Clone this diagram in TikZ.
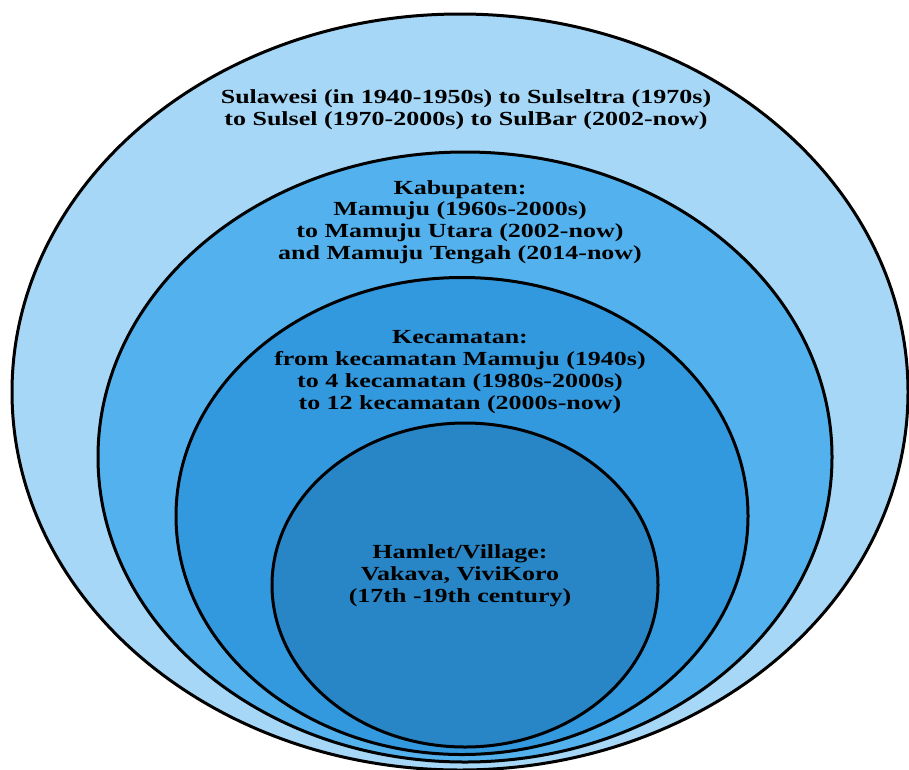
\documentclass[tikz,border=0pt]{standalone}
\usepackage{fontspec}
\newfontfamily\diafont[FakeStretch=1.3]{Liberation Serif}
\usetikzlibrary{shapes.geometric}
\definecolor{c1}{HTML}{A6D7F6}
\definecolor{c2}{HTML}{53B2EE}
\definecolor{c3}{HTML}{3399DF}
\definecolor{c4}{HTML}{2986C6}
\tikzset{
  ring/.style={ellipse, draw=black, line width=3pt, inner sep=0pt},
  lbl/.style={align=center, inner sep=0pt, font=\diafont\bfseries\fontsize{20}{21.8}\selectfont}
}
\begin{document}
\begin{tikzpicture}[x=1pt,y=-1pt]
\useasboundingbox (0,0) rectangle (909,769);
\clip (0,0) rectangle (909,769);
\fill[white] (0,0) rectangle (909,769);
\node[ring, fill=c1, minimum width=896pt, minimum height=756pt] (e1) at (460,392) {};
\node[ring, fill=c2, minimum width=734pt, minimum height=610pt] (e2) at (465,457) {};
\node[ring, fill=c3, minimum width=572pt, minimum height=477pt] (e3) at (462,516) {};
\node[ring, fill=c4, minimum width=386pt, minimum height=324pt] (e4) at (465,585) {};
\node[lbl] (t1) at (466,110) {Sulawesi (in 1940-1950s) to Sulseltra (1970s)\\to Sulsel (1970-2000s) to SulBar (2002-now)};
\node[lbl] (t2) at (460,222) {Kabupaten:\\Mamuju (1960s-2000s)\\to Mamuju Utara (2002-now)\\and Mamuju Tengah (2014-now)};
\node[lbl] (t3) at (460,372) {Kecamatan:\\from kecamatan Mamuju (1940s)\\to 4 kecamatan (1980s-2000s)\\to 12 kecamatan (2000s-now)};
\node[lbl] (t4) at (460,576) {Hamlet/Village:\\Vakava, ViviKoro\\(17th -19th century)};
\end{tikzpicture}
\end{document}
